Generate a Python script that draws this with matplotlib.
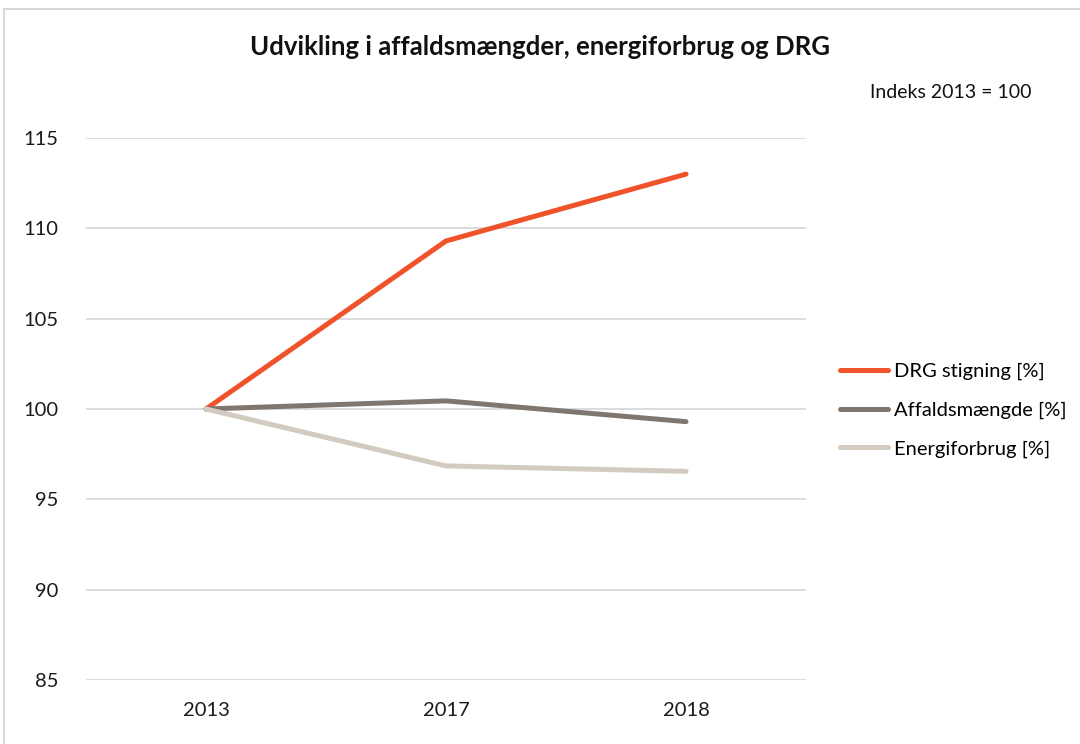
import matplotlib.pyplot as plt
from matplotlib.lines import Line2D

plt.rcParams['font.family'] = ['Lato', 'DejaVu Sans']

years = ["2013", "2017", "2018"]
drg = [100, 109.3, 113.0]
affald = [100, 100.45, 99.3]
energi = [100, 96.85, 96.55]
labels = ["DRG stigning [%]", "Affaldsmængde [%]", "Energiforbrug [%]"]
colors = ["#F0522A", "#7F776F", "#D3CAC0"]

fig = plt.figure(figsize=(10.8, 7.44), dpi=100)
ax = fig.add_axes([86/1080, 1-680/744, 720/1080, 542/744])

x = range(len(years))
for vals, lab, c in zip([drg, affald, energi], labels, colors):
    ax.plot(x, vals, color=c, lw=3.6, label=lab, solid_capstyle='round', solid_joinstyle='round')

ax.set_xlim(-0.5, 2.5)
ax.set_ylim(85, 115)
ax.set_yticks(range(85, 116, 5))
ax.set_xticks(list(x))
ax.set_xticklabels(years)
ax.grid(axis='y', color='#D9D9D9', lw=1.3)
ax.set_axisbelow(True)
for s in ax.spines.values():
    s.set_visible(False)
ax.tick_params(length=0, labelsize=14.5, colors='#1a1a1a')
ax.tick_params(axis='y', pad=20)
ax.tick_params(axis='x', pad=16)

fig.text(0.5, 1-47/744, "Udvikling i affaldsmængder, energiforbrug og DRG",
         ha='center', va='center', fontsize=18.5, fontweight='bold', color='#111111')
fig.text(870/1080, 1-93/744, "Indeks 2013 = 100", ha='left', va='center', fontsize=14, color='#111111')

handles = [Line2D([], [], color=c, lw=3.6, solid_capstyle='round') for c in colors]
fig.legend(handles, labels, loc='upper left', bbox_to_anchor=(822/1080, 1-345/744),
           frameon=False, fontsize=14.5, handlelength=2.4, handletextpad=0.3, labelspacing=1.05)

# light frame of the chart area
fig.add_artist(Line2D([4/1080, 4/1080], [0, 1-9/744], color='#D9D9D9', lw=1.5))
fig.add_artist(Line2D([4/1080, 1], [1-9/744, 1-9/744], color='#D9D9D9', lw=1.5))

fig.savefig("out.png", dpi=100)
